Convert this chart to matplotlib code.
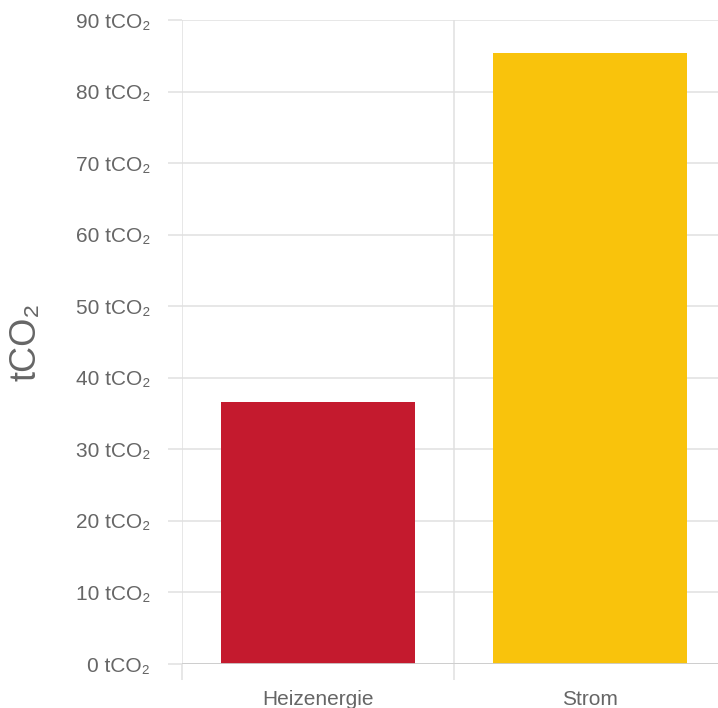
import matplotlib
matplotlib.use("Agg")
import matplotlib.pyplot as plt

categories = ["Heizenergie", "Strom"]
values = [36.6, 85.4]
colors = ["#c41a2e", "#f9c30c"]
yticks = [0, 10, 20, 30, 40, 50, 60, 70, 80, 90]

plt.rcParams['font.family'] = ['Liberation Sans', 'DejaVu Sans']
plt.rcParams['mathtext.fontset'] = 'custom'
plt.rcParams['mathtext.rm'] = 'Liberation Sans'
plt.rcParams['mathtext.it'] = 'Liberation Sans'
plt.rcParams['mathtext.default'] = 'regular'

W, H = 718, 708
fig = plt.figure(figsize=(W / 100, H / 100), dpi=100)
ax = fig.add_axes([182 / W, 44 / H, 544 / W, 644 / H])

grid_c = "#e0e0e0"
text_c = "#666666"

xpos = [i + 0.5 for i in range(len(categories))]
ax.bar(xpos, values, width=0.715, color=colors, zorder=3)

ax.set_xlim(0, len(categories))
ax.set_ylim(0, 90)

ax.set_yticks(yticks)
ax.set_yticklabels([f"{v} tCO₂" for v in yticks])
ax.tick_params(axis='y', length=10, width=1.1, color=grid_c, labelsize=15,
               labelcolor=text_c, pad=13)

ax.set_xticks(xpos)
ax.set_xticklabels(categories)
ax.set_xticks(range(len(categories) + 1), minor=True)
ax.tick_params(axis='x', which='major', length=0, labelsize=15,
               labelcolor=text_c, pad=19)
ax.tick_params(axis='x', which='minor', length=11.5, width=1.1, color=grid_c)

ax.grid(axis='y', which='major', color=grid_c, linewidth=1.1, zorder=0)
ax.grid(axis='x', which='minor', color=grid_c, linewidth=1.1, zorder=0)
ax.axhline(0, color="#cccccc", linewidth=1.3, zorder=4)

for s in ax.spines.values():
    s.set_visible(False)

ax.set_ylabel("tCO₂", fontsize=26, color=text_c)
ax.yaxis.set_label_coords(-0.255, 0.5)

fig.savefig("out.png", dpi=100)
